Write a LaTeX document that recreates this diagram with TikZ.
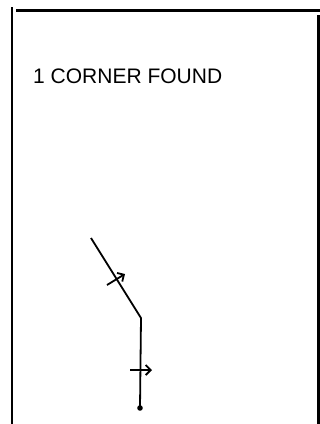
\documentclass[tikz,border=0pt]{standalone}
\usepackage{fontspec}
\setmainfont{Liberation Sans}
\usetikzlibrary{arrows.meta}
\begin{document}
\begin{tikzpicture}[x=1pt,y=-1pt,
  frame/.style={line width=2.2pt},
  sketch/.style={line width=1.8pt, line join=round},
  motion/.style={line width=1.8pt, -{Straight Barb[length=5pt,width=10pt,line width=1.8pt]}},
  label/.style={font=\fontsize{21}{24}\selectfont, anchor=base west, inner sep=0pt}]
\useasboundingbox (0,0) rectangle (320,424);
\fill[white] (0,0) rectangle (320,424);
% frame
\coordinate (lt) at (12,7);
\coordinate (lb) at (12,424);
\coordinate (tl) at (16,10.5);
\coordinate (tr) at (320,10.5);
\coordinate (rt) at (318.5,15);
\coordinate (rb) at (318.5,424);
\draw[frame] (lt) -- (lb);
\draw[frame] (tl) -- (tr);
\draw[frame] (rt) -- (rb);
% text
\node[label] (title) at (33,83) {1 CORNER FOUND};
% path
\coordinate (start) at (91,238);
\coordinate (corner) at (141,318);
\coordinate (end) at (140,408);
\draw[sketch] (start) -- (corner) -- (end);
\fill (end) circle (2.8);
% motion arrows
\coordinate (a1s) at (107,285);
\coordinate (a1e) at (125,274);
\coordinate (a2s) at (130,370);
\coordinate (a2e) at (152,370);
\draw[motion] (a1s) -- (a1e);
\draw[motion] (a2s) -- (a2e);
\end{tikzpicture}
\end{document}
